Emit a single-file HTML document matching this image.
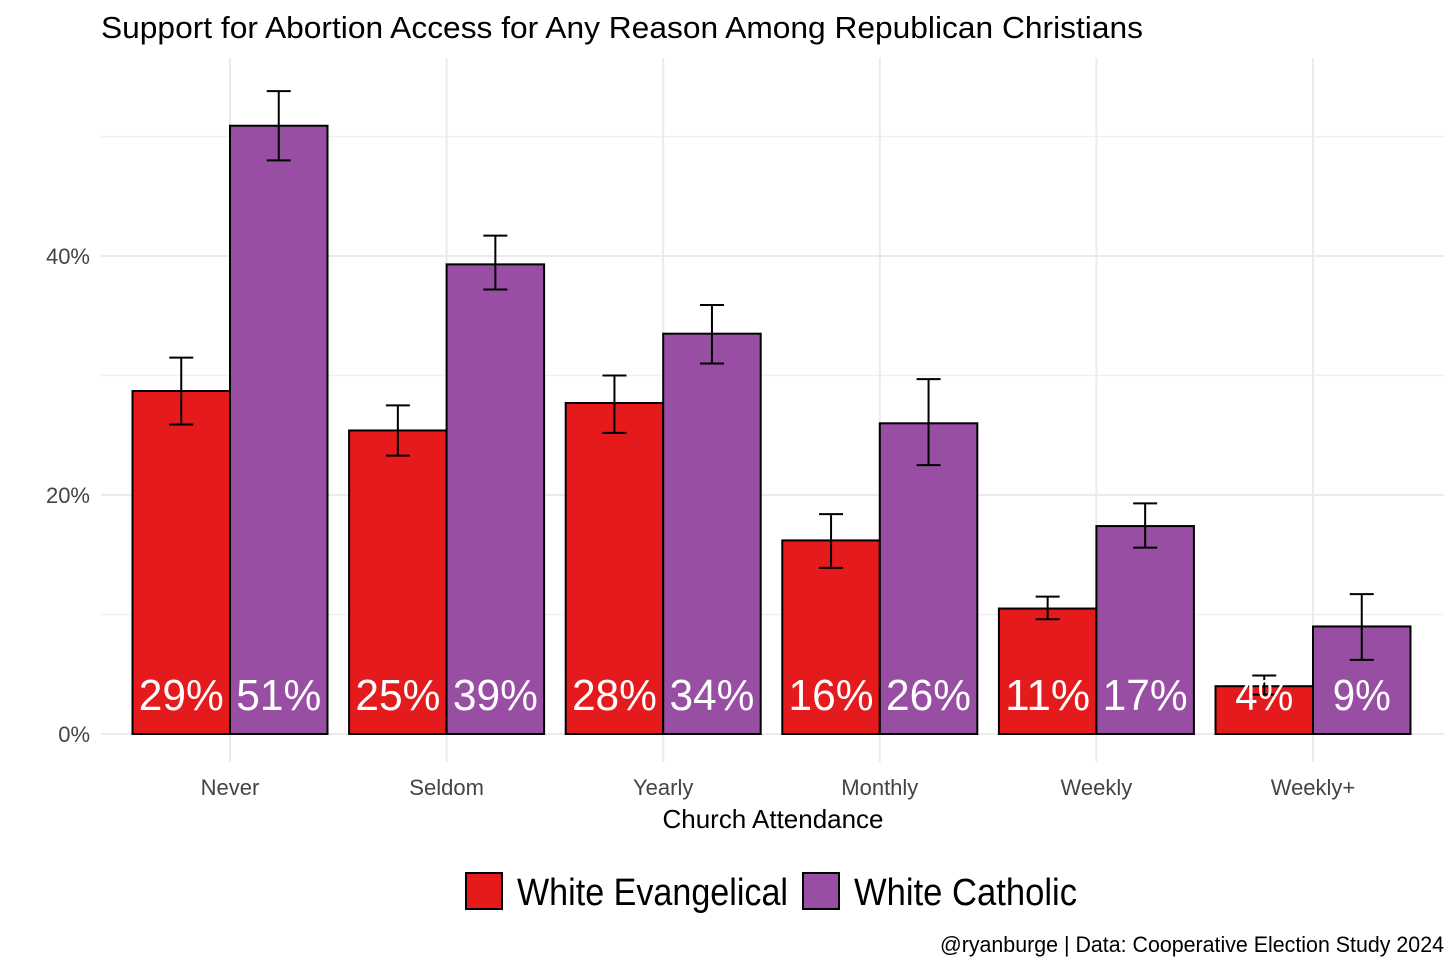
<!DOCTYPE html>
<html><head><meta charset="utf-8"><style>
body{margin:0;background:#fff;}
svg{display:block;font-family:"Liberation Sans Narrow","Liberation Sans",sans-serif;}
</style></head><body>
<svg id="chart" width="1456" height="970" xmlns="http://www.w3.org/2000/svg">
<rect width="1456" height="970" fill="#fff"/>
<text x="101" y="38" font-size="31" fill="#000" textLength="1042" lengthAdjust="spacingAndGlyphs">Support for Abortion Access for Any Reason Among Republican Christians</text>
<g id="grid"></g><g id="bars"></g>
<text x="773" y="828" font-size="26" text-anchor="middle" fill="#000" textLength="221" lengthAdjust="spacingAndGlyphs">Church Attendance</text>
<g>
<rect x="466" y="873" width="36" height="36" fill="#E41A1C" stroke="#000" stroke-width="2"/>
<text x="517" y="905" font-size="38" textLength="271" lengthAdjust="spacingAndGlyphs">White Evangelical</text>
<rect x="803" y="873" width="36" height="36" fill="#984EA3" stroke="#000" stroke-width="2"/>
<text x="854" y="905" font-size="38" textLength="223" lengthAdjust="spacingAndGlyphs">White Catholic</text>
</g>
<text x="1444" y="952" font-size="22" text-anchor="end" textLength="504" lengthAdjust="spacingAndGlyphs">@ryanburge | Data: Cooperative Election Study 2024</text>
</svg>
<script>
const categories=["Never","Seldom","Yearly","Monthly","Weekly","Weekly+"];
const evangelical=[28.7,25.4,27.7,16.2,10.5,4.0];
const evangelicalLo=[25.9,23.3,25.2,13.9,9.6,3.3];
const evangelicalHi=[31.5,27.5,30.0,18.4,11.5,4.9];
const catholic=[50.9,39.3,33.5,26.0,17.4,9.0];
const catholicLo=[48.0,37.2,31.0,22.5,15.6,6.2];
const catholicHi=[53.8,41.7,35.9,29.7,19.3,11.7];
const yTicks=[0,20,40];
const yGrid=[10,30,50];
const NS="http://www.w3.org/2000/svg";
const y=v=>734-v*11.95;
const x=i=>230+i*216.6;
const bw=97.5;
function mk(t,a,p){const e=document.createElementNS(NS,t);for(const k in a)e.setAttribute(k,a[k]);p.appendChild(e);return e;}
const grid=document.getElementById('grid'),bars=document.getElementById('bars');
yGrid.forEach(v=>{const l=mk('line',{x1:101,x2:1444,y1:y(v),y2:y(v),stroke:'#f0f0f0','stroke-width':1.5},grid);

});
yTicks.forEach(v=>{const l=mk('line',{x1:101,x2:1444,y1:y(v),y2:y(v),stroke:'#ebebeb','stroke-width':2},grid);


const t=mk('text',{x:90,y:y(v)+8,'font-size':22,'text-anchor':'end',fill:'#444'},grid);t.textContent=v+'%';

});
categories.forEach((c,i)=>{const l=mk('line',{x1:x(i),x2:x(i),y1:58,y2:762,stroke:'#ebebeb','stroke-width':2},grid);


const t=mk('text',{x:x(i),y:795,'font-size':22,'text-anchor':'middle',fill:'#444'},grid);t.textContent=c;

});
function series(vals,lo,hi,fill,off,name){
 vals.forEach((v,i)=>{const x0=x(i)+off;
  const r=mk('rect',{x:x0,y:y(v),width:bw,height:y(0)-y(v),fill:fill,stroke:'#000','stroke-width':2},bars);
  
  
  const cx=x0+bw/2;
  const g=mk('g',{stroke:'#000','stroke-width':2},bars);
  
  
  mk('line',{x1:cx,x2:cx,y1:y(hi[i]),y2:y(lo[i])},g);
  mk('line',{x1:cx-12,x2:cx+12,y1:y(hi[i]),y2:y(hi[i])},g);
  mk('line',{x1:cx-12,x2:cx+12,y1:y(lo[i]),y2:y(lo[i])},g);
  const t=mk('text',{x:cx,y:710,'font-size':44,'text-anchor':'middle',fill:'#fff',textLength:Math.round(v).toString().length>1?85:58,lengthAdjust:'spacingAndGlyphs'},bars);
  t.textContent=Math.round(v)+'%';
  
  
 });}
series(evangelical,evangelicalLo,evangelicalHi,'#E41A1C',-bw,'evangelical');
series(catholic,catholicLo,catholicHi,'#984EA3',0,'catholic');
</script>
</body></html>
